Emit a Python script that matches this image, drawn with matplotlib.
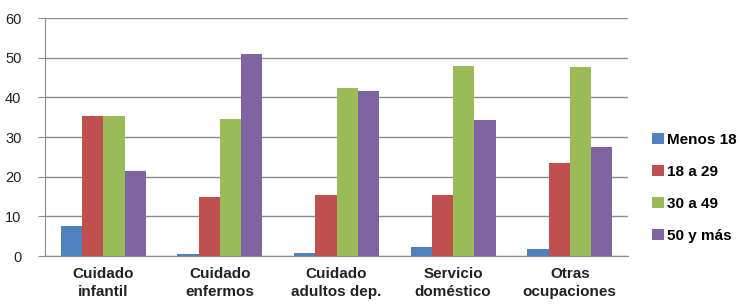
import numpy as np
import matplotlib.pyplot as plt
from matplotlib.patches import Patch

# ------------------------------------
# Data
# ------------------------------------
categories = ["Cuidado\ninfantil", "Cuidado\nenfermos", "Cuidado\nadultos dep.",
              "Servicio\ndoméstico", "Otras\nocupaciones"]
series_names = ["Menos 18", "18 a 29", "30 a 49", "50 y más"]
menos_18 = [7.6, 0.5, 0.8, 2.4, 1.9]
de_18_29 = [35.4, 14.8, 15.4, 15.5, 23.4]
de_30_49 = [35.2, 34.6, 42.3, 48.0, 47.6]
mas_50 = [21.4, 50.9, 41.7, 34.3, 27.4]
yticks = [0, 10, 20, 30, 40, 50, 60]

colors = ["#4F81BD", "#C0504D", "#9BBB59", "#8064A2"]

# ------------------------------------
# Plot
# ------------------------------------
plt.rcParams['font.family'] = ['Liberation Sans', 'DejaVu Sans']

fig = plt.figure(figsize=(7.4, 3.06), dpi=100)
ax = fig.add_axes([0.0608, 0.163, 0.788, 0.778])

x = np.arange(len(categories))
w = 0.182
all_series = [menos_18, de_18_29, de_30_49, mas_50]
for i, (vals, c) in enumerate(zip(all_series, colors)):
    ax.bar(x + (i - 1.5) * w, vals, width=w, color=c, zorder=3)

ax.set_xlim(-0.5, len(categories) - 0.5)
ax.set_ylim(0, 60)
ax.set_yticks(yticks)
ax.set_yticklabels([str(t) for t in yticks], fontsize=10.5, color="#222222")
ax.yaxis.grid(True, color="#8c8c8c", linewidth=1.0, zorder=0)
ax.set_xticks(x)
ax.set_xticklabels(categories, fontsize=11, fontweight="bold", color="#222222",
                   linespacing=1.38)
ax.tick_params(axis="x", length=0, pad=8)
ax.tick_params(axis="y", length=5, color="#8c8c8c", pad=12)

for s in ["top", "right"]:
    ax.spines[s].set_visible(False)
ax.spines["left"].set_color("#8c8c8c")
ax.spines["bottom"].set_color("#8c8c8c")

handles = [Patch(facecolor=c, label=n) for c, n in zip(colors, series_names)]
fig.legend(handles=handles, loc="upper left", bbox_to_anchor=(0.873, 0.585),
           frameon=False, prop={"weight": "bold", "size": 11},
           handlelength=0.75, handleheight=0.75, handletextpad=0.25,
           labelspacing=1.18, borderaxespad=0)

fig.savefig("out.png", dpi=100, facecolor="white")
